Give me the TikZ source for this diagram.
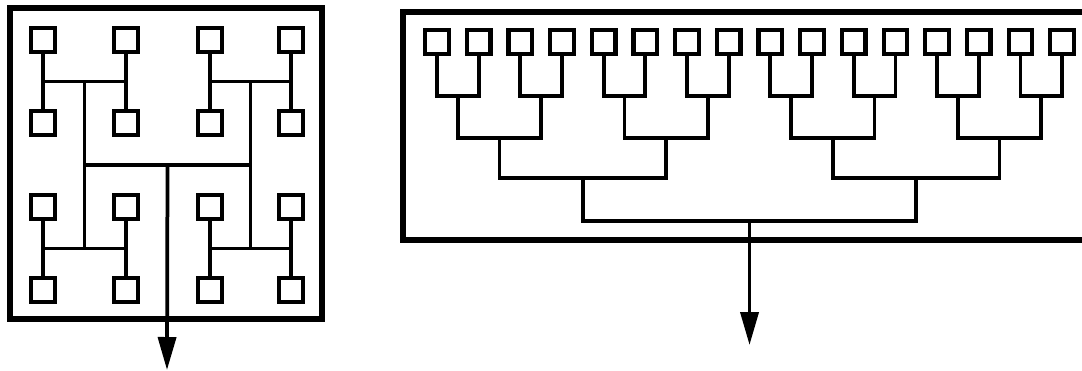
\documentclass[tikz,border=0pt]{standalone}
\usetikzlibrary{arrows.meta,calc}
\begin{document}
\begin{tikzpicture}[x=0.02cm,y=-0.02cm,
  pe/.style={draw, line width=0.085cm, minimum size=0.47cm, inner sep=0pt, fill=white},
  wire/.style={line width=0.075cm},
  frame/.style={line width=0.11cm},
  outarrow/.style={wire, -{Triangle[length=0.66cm,width=0.36cm]}}]
\useasboundingbox (0,0) rectangle (1082,371);

% ---------- left: H-tree ----------
\foreach \c/\x in {0/43,1/126,2/210,3/291}
  \foreach \r/\y in {0/40,1/123,2/207,3/290}
    \node[pe] (L\r\c) at (\x,\y) {};

\coordinate (TL) at ($(L00)!.5!(L11)$);
\coordinate (TR) at ($(L02)!.5!(L13)$);
\coordinate (BL) at ($(L20)!.5!(L31)$);
\coordinate (BR) at ($(L22)!.5!(L33)$);
\coordinate (LC) at ($(TL)!.5!(BR)$);
\coordinate (Ltip) at (167,370);

\foreach \a/\b in {00/10,01/11,02/12,03/13,20/30,21/31,22/32,23/33}
  \draw[wire] (L\a) -- (L\b);
\draw[wire] (TL -| L00) -- (TL -| L01);
\draw[wire] (TR -| L02) -- (TR -| L03);
\draw[wire] (BL -| L20) -- (BL -| L21);
\draw[wire] (BR -| L22) -- (BR -| L23);
\draw[wire] (TL) -- (BL);
\draw[wire] (TR) -- (BR);
\draw[wire] (LC -| TL) -- (LC -| TR);
\draw[outarrow] (LC) -- (Ltip);
\draw[frame] (10,8) rectangle (322,319);

% ---------- right: binary tree ----------
\foreach \i in {0,...,15}
  \node[pe] (R\i) at ({437+41.67*\i},42) {};

\foreach \k in {0,...,7}{
  \pgfmathtruncatemacro\a{2*\k}
  \pgfmathtruncatemacro\b{2*\k+1}
  \coordinate (A\k) at ({437+41.67*(2*\k+0.5)},96);
  \draw[wire] (R\a) |- (A\k) -| (R\b);
}
\foreach \k in {0,...,3}{
  \pgfmathtruncatemacro\a{2*\k}
  \pgfmathtruncatemacro\b{2*\k+1}
  \coordinate (B\k) at ({437+41.67*(4*\k+1.5)},138);
  \draw[wire] (A\a) |- (B\k) -| (A\b);
}
\foreach \k in {0,1}{
  \pgfmathtruncatemacro\a{2*\k}
  \pgfmathtruncatemacro\b{2*\k+1}
  \coordinate (C\k) at ({437+41.67*(8*\k+3.5)},178);
  \draw[wire] (B\a) |- (C\k) -| (B\b);
}
\coordinate (D) at ({437+41.67*7.5},221);
\draw[wire] (C0) |- (D) -| (C1);
\coordinate (Rtip) at (D |- 0,345);
\draw[outarrow] (D) -- (Rtip);
\draw[frame] (1082,12) -- (403,12) -- (403,240) -- (1082,240);
\end{tikzpicture}
\end{document}
